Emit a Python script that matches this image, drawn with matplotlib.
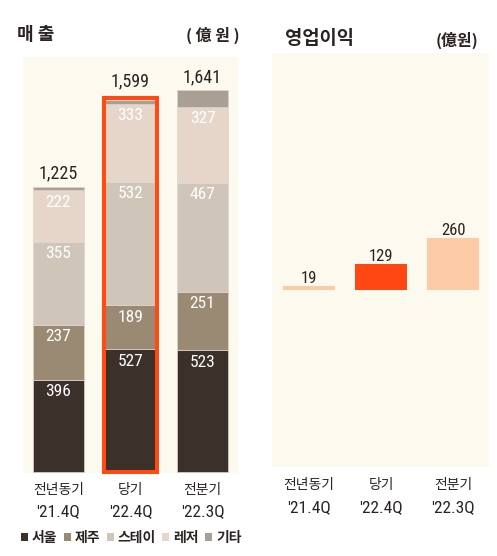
import matplotlib
matplotlib.use('Agg')
import matplotlib.pyplot as plt
from matplotlib.patches import Rectangle, Patch

plt.rcParams['font.family'] = ['Noto Sans CJK KR', 'DejaVu Sans']

# data
periods = ['전년동기', '당기', '전분기']
quarters = ["'21.4Q", "'22.4Q", "'22.3Q"]
segments = ['서울', '제주', '스테이', '레저', '기타']
seoul = [396, 527, 523]
jeju = [237, 189, 251]
stay = [355, 532, 467]
leisure = [222, 333, 327]
etc = [15, 18, 73]
totals = [1225, 1599, 1641]
op_profit = [19, 129, 260]

seg_values = [seoul, jeju, stay, leisure, etc]
seg_colors = ['#3c302b', '#9a8a74', '#d0c5b9', '#e6d6ca', '#aa9f95']
op_colors = ['#fdcaa7', '#ff4713', '#fdcaa7']
bg = '#fcf9ef'
red = '#ff4a14'
dark = '#2a2321'
num_font = ['Roboto Condensed', 'DejaVu Sans']

W, H = 497, 556
fig = plt.figure(figsize=(W / 100, H / 100), dpi=100)
fig.patch.set_facecolor('white')


def px_axes(x0, y0, x1, y1):
    # pixel box (top-left origin) -> axes
    return fig.add_axes([x0 / W, (H - y1) / H, (x1 - x0) / W, (y1 - y0) / H])


def clean(ax):
    ax.set_facecolor(bg)
    ax.set_xticks([])
    ax.set_yticks([])
    for s in ax.spines.values():
        s.set_visible(False)


x = list(range(len(periods)))

# ---- 매출 (stacked) ----
ax1 = px_axes(23, 57, 238, 473)
clean(ax1)
ax1.set_xlim(-0.493, 2.493)
ax1.set_ylim(-4.3, 1783)

bottoms = [0, 0, 0]
for vals, col in zip(seg_values, seg_colors):
    ax1.bar(x, vals, width=0.71, bottom=bottoms, color=col,
            edgecolor='#ddd5cc', linewidth=0.5)
    if vals is not etc:
        for i, v in enumerate(vals):
            ax1.annotate(str(v), (i, bottoms[i] + v), xytext=(0, -8.5),
                         textcoords='offset points', ha='center', va='center',
                         color='white', fontsize=12.5, family=num_font)
    bottoms = [b + v for b, v in zip(bottoms, vals)]

for i, t in enumerate(totals):
    off = 7 if i == 1 else 3
    ax1.annotate(f'{t:,}', (i, t), xytext=(0, off), textcoords='offset points',
                 ha='center', va='bottom', color=dark, fontsize=13,
                 family=num_font)

# highlight current quarter
ax1.add_patch(Rectangle((0.632, 0), 0.736, 1606, fill=False, edgecolor=red,
                        linewidth=2.9, clip_on=False, zorder=5))

xt1 = ax1.get_xaxis_transform()
for i in x:
    ax1.text(i, -0.041, periods[i], transform=xt1, ha='center', va='center',
             fontsize=10, color=dark)
    ax1.text(i, -0.094, quarters[i], transform=xt1, ha='center', va='center',
             fontsize=12.5, color=dark, family=num_font)

# ---- 영업이익 ----
ax2 = px_axes(272, 53, 489, 467)
clean(ax2)
ax2.set_xlim(-0.514, 2.5)
ax2.set_ylim(-885, 1185)
ax2.bar(x, op_profit, width=0.72, color=op_colors)
for i, v in enumerate(op_profit):
    ax2.annotate(str(v), (i, v), xytext=(0, 0), textcoords='offset points',
                 ha='center', va='bottom', color=dark, fontsize=12,
                 family=num_font)

xt2 = ax2.get_xaxis_transform()
for i in x:
    ax2.text(i, -0.0435, periods[i], transform=xt2, ha='center', va='center',
             fontsize=10, color=dark)
    ax2.text(i, -0.097, quarters[i], transform=xt2, ha='center', va='center',
             fontsize=12.5, color=dark, family=num_font)

# titles
fig.text(17 / W, 1 - 35 / H, '매 출', fontsize=13, fontweight='bold',
         color=dark, ha='left', va='center')
fig.text(240 / W, 1 - 35 / H, '( 億 원 )', fontsize=11.5, fontweight='bold',
         color=dark, ha='right', va='center')
fig.text(285 / W, 1 - 38 / H, '영업이익', fontsize=13.5, fontweight='bold',
         color=dark, ha='left', va='center')
fig.text(478 / W, 1 - 40 / H, '(億원)', fontsize=11.5, fontweight='bold',
         color=dark, ha='right', va='center')

# legend
handles = [Patch(facecolor=c, edgecolor='none') for c in seg_colors]
fig.legend(handles, segments, loc='center left',
           bbox_to_anchor=(21 / W, 1 - 538 / H), ncol=5, frameon=False,
           handlelength=0.5, handleheight=0.5, handletextpad=0.3,
           columnspacing=0.45, borderpad=0, borderaxespad=0,
           prop={'size': 10, 'weight': 'bold'}, labelcolor=dark)

fig.savefig('out.png', dpi=100)
